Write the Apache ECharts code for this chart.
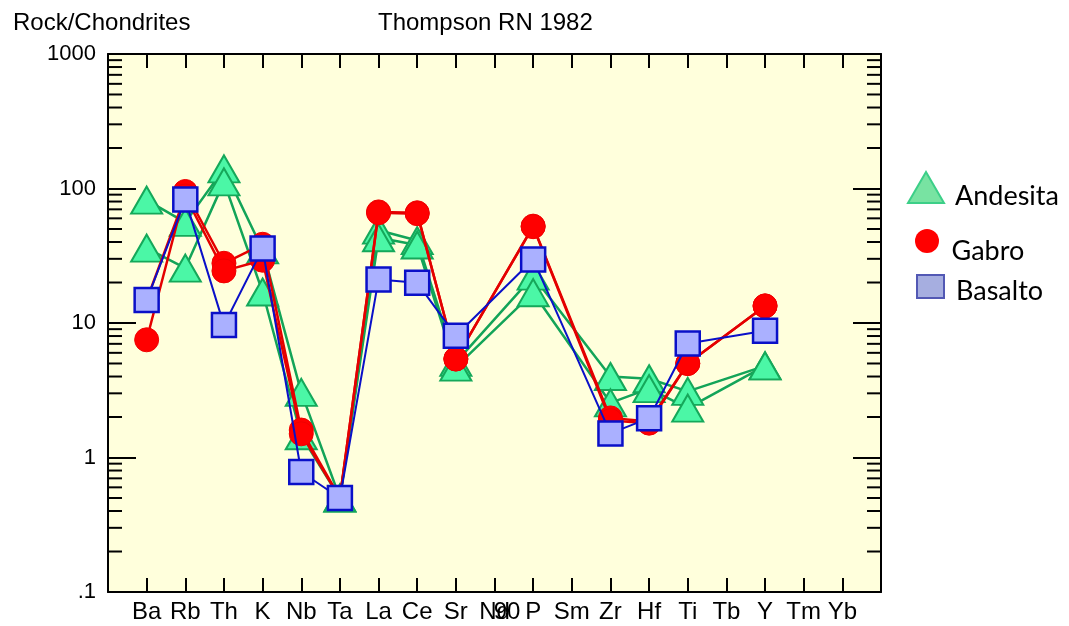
<!DOCTYPE html>
<html>
<head>
<meta charset="utf-8">
<script src="https://cdn.jsdelivr.net/npm/echarts@6/dist/echarts.min.js"></script>
<style>
  html, body { margin: 0; padding: 0; background: #ffffff; }
  #chart { width: 1069px; height: 626px; }
</style>
</head>
<body>
<div id="chart"></div>
<script>
// Spider diagram of rock / chondrite ratios (Thompson RN 1982 normalisation)
const elements = ['Ba', 'Rb', 'Th', 'K', 'Nb', 'Ta', 'La', 'Ce', 'Sr', 'Nd', 'P', 'Sm', 'Zr', 'Hf', 'Ti', 'Tb', 'Y', 'Tm', 'Yb'];

// normalised values per sample, null where the element was not analysed
const andesitaA = [82, 56, 140, 35, 3.05, 0.5, 49, 41, 5.1, null, 22.3, null, 4.0, 3.85, 3.1, null, 4.8, null, null];
const andesitaB = [36, 25.6, 112, 17, 1.45, 0.5, 43, 38, 4.7, null, 16.8, null, 2.55, 3.25, 2.33, null, 4.8, null, null];
const gabroA = [7.5, 95, 27.8, 38.5, 1.6, 0.5, 67, 66, 5.4, null, 52.5, null, 1.97, 1.85, 5.0, null, 13.4, null, null];
const gabroB = [14.8, 88, 24.4, 29.3, 1.5, 0.5, 66, 65, 5.4, null, 52, null, 1.88, 1.8, 5.0, null, 13.4, null, null];
const basalto = [14.8, 82.7, 9.65, 35.8, 0.78, 0.5, 21.1, 19.9, 8.05, null, 29.7, null, 1.51, 1.96, 7.05, null, 8.75, null, null];

const yTickLabels = ['.1', '1', '10', '100', '1000'];
const yMin = 0.1;
const yMax = 1000;
const xMax = elements.length + 1;

// intermediate log ticks (2..9 in each decade)
const minorTicks = [];
for (let d = yMin; d < yMax * 0.99; d *= 10) {
  for (let k = 2; k <= 9; k++) minorTicks.push(+(d * k).toPrecision(3));
}

function points(values) {
  return values.map((v, i) => (v == null ? null : [i + 1, v])).filter(p => p);
}

const axisFont = '"Liberation Sans", Arial, sans-serif';
const legendFont = 'Lato, "Open Sans", sans-serif';
const black = '#000000';

const greenStyle = {
  type: 'line', name: 'Andesita', symbol: 'triangle', symbolSize: [31, 27],
  lineStyle: { color: '#13a458', width: 2.5 },
  itemStyle: { color: '#4bf7a6', borderColor: '#15a85a', borderWidth: 2 },
  z: 3
};
const redStyle = {
  type: 'line', name: 'Gabro', symbol: 'circle', symbolSize: 24,
  lineStyle: { color: '#e40000', width: 2.5 },
  itemStyle: { color: '#ff0000', borderColor: '#f00000', borderWidth: 1 },
  z: 4
};
const blueStyle = {
  type: 'line', name: 'Basalto', symbol: 'rect', symbolSize: 24,
  lineStyle: { color: '#0a10c8', width: 2 },
  itemStyle: { color: '#aab0ff', borderColor: '#0a10c8', borderWidth: 2.5 },
  z: 5
};

const series = [
  Object.assign({}, greenStyle, { data: points(andesitaA) }),
  Object.assign({}, greenStyle, { data: points(andesitaB) }),
  Object.assign({}, redStyle, { data: points(gabroA) }),
  Object.assign({}, redStyle, { data: points(gabroB) }),
  Object.assign({}, blueStyle, { data: points(basalto) }),
  {
    type: 'custom',
    name: 'minorTicks',
    silent: true,
    z: 1,
    data: minorTicks.map(v => [0, v]),
    renderItem: function (params, api) {
      const v = api.value(1);
      const l = api.coord([0, v]);
      const r = api.coord([xMax, v]);
      const st = { stroke: black, lineWidth: 2 };
      return {
        type: 'group',
        children: [
          { type: 'line', shape: { x1: l[0], y1: l[1], x2: l[0] + 14, y2: l[1] }, style: st },
          { type: 'line', shape: { x1: r[0] - 14, y1: r[1], x2: r[0], y2: r[1] }, style: st }
        ]
      };
    }
  }
];
series.forEach(s => { s.animation = false; if (s.type === 'line') { s.emphasis = { disabled: true }; } });

function xAxisDef(position, withLabels) {
  return {
    type: 'value', min: 0, max: xMax, interval: 1, position: position,
    axisLine: { show: true, onZero: false, lineStyle: { color: black, width: 2 } },
    axisTick: { show: true, inside: true, length: 14, lineStyle: { color: black, width: 2 } },
    axisLabel: withLabels ? {
      show: true, margin: 8, color: black, fontSize: 24, fontFamily: axisFont,
      formatter: v => elements[v - 1] || ''
    } : { show: false },
    splitLine: { show: false }
  };
}

function yAxisDef(position, withLabels) {
  return {
    type: 'log', logBase: 10, min: yMin, max: yMax, position: position,
    axisLine: { show: true, onZero: false, lineStyle: { color: black, width: 2 } },
    axisTick: { show: true, inside: true, length: 28, lineStyle: { color: black, width: 2 } },
    axisLabel: withLabels ? {
      show: true, margin: 12, color: black, fontSize: 22, fontFamily: axisFont,
      formatter: v => yTickLabels[Math.round(Math.log10(v)) + 1]
    } : { show: false },
    splitLine: { show: false },
    minorTick: { show: false }
  };
}

function legendDef(name, icon, w, h, left, top, itemStyle, shift, gap) {
  return {
    data: [{ name: name, icon: icon, itemStyle: itemStyle }],
    left: left, top: top, itemWidth: w, itemHeight: h,
    selectedMode: false,
    formatter: n => '{t|' + n + '}',
    textStyle: {
      fontSize: 27, fontFamily: legendFont, color: black,
      rich: { t: { fontSize: 27, fontFamily: legendFont, color: black, padding: [shift, 0, 0, gap] } }
    }
  };
}

const option = {
  animation: false,
  backgroundColor: '#ffffff',
  title: [
    { text: 'Rock/Chondrites', left: 8, top: 6, textStyle: { fontSize: 24, fontWeight: 'normal', color: black, fontFamily: axisFont } },
    { text: 'Thompson RN 1982', left: 373, top: 6, textStyle: { fontSize: 24, fontWeight: 'normal', color: black, fontFamily: axisFont } }
  ],
  grid: { left: 108, right: 188, top: 54, bottom: 34, show: true, backgroundColor: '#ffffdc', borderWidth: 0, containLabel: false },
  xAxis: [xAxisDef('bottom', true), xAxisDef('top', false)],
  yAxis: [yAxisDef('left', true), yAxisDef('right', false)],
  legend: [
    legendDef('Andesita', 'triangle', 36, 31, 902, 166, { color: '#78e3a2', borderColor: '#3ccf88', borderWidth: 2 }, 18, 6),
    legendDef('Gabro', 'circle', 29, 24, 910, 224, { color: '#ff0000', borderColor: '#ff0000', borderWidth: 0 }, 20, 5),
    legendDef('Basalto', 'rect', 27, 23, 911, 269, { color: '#a6aee0', borderColor: '#5258b4', borderWidth: 2 }, 9, 7)
  ],
  graphic: [
    {
      type: 'text', x: 507, y: 612, silent: true,
      style: { text: '90', font: '24px "Liberation Sans", Arial, sans-serif', fill: black, align: 'center', verticalAlign: 'middle' }
    }
  ],
  series: series
};

const chart = echarts.init(document.getElementById('chart'), null, { renderer: 'canvas' });
chart.setOption(option);
</script>
</body>
</html>
